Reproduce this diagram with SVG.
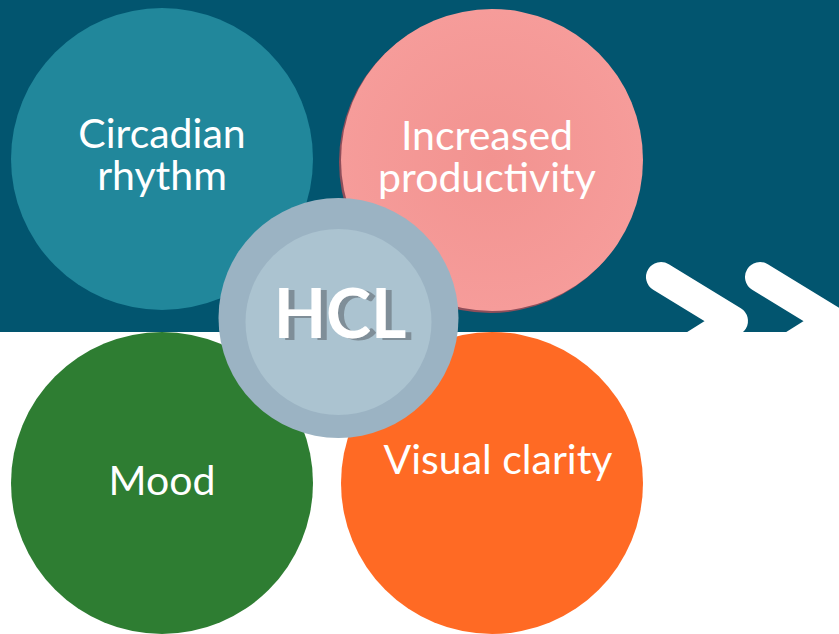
<svg xmlns="http://www.w3.org/2000/svg" width="839" height="634" viewBox="0 0 839 634">
<defs>
<style>
.lbl{font-family:Lato,"Open Sans","DejaVu Sans",sans-serif;font-size:41px;fill:#ffffff;text-anchor:middle}
.hcl{font-family:Lato,"Open Sans","DejaVu Sans",sans-serif;font-size:68px;font-weight:bold;text-anchor:middle;fill:#ffffff}
</style>
<radialGradient id="pinkg" cx="0.5" cy="0.5" r="0.5">
<stop offset="0" stop-color="#F29390"/>
<stop offset="1" stop-color="#F69C9A"/>
</radialGradient>
<filter id="hclshadow" x="-10%" y="-10%" width="130%" height="130%">
<feOffset in="SourceAlpha" dx="6" dy="2" result="off"/>
<feFlood flood-color="#7F8E98"/>
<feComposite in2="off" operator="in" result="sh"/>
<feMerge><feMergeNode in="sh"/><feMergeNode in="SourceGraphic"/></feMerge>
</filter>
</defs>
<rect x="0" y="0" width="839" height="634" fill="#ffffff"/>
<rect x="0" y="0" width="839" height="332" fill="#02556F"/>
<g id="chevrons" fill="none" stroke="#ffffff" stroke-width="30" stroke-linecap="round" stroke-linejoin="round">
<polyline points="661,277 733,321 690,348"/>
<polyline points="760,277 832,321 789,348"/>
</g>
<g id="connectors"></g>
<g id="node-circadian">
<circle cx="162" cy="159" r="151" fill="#21879B"/>
<text class="lbl" x="162" y="148">Circadian</text>
<text class="lbl" x="162" y="190">rhythm</text>
</g>
<g id="node-productivity">
<circle cx="490" cy="162" r="151" fill="#8E4E5A"/>
<circle cx="492" cy="160" r="151" fill="url(#pinkg)"/>
<text class="lbl" x="487" y="150">Increased</text>
<text class="lbl" x="487" y="192">productivity</text>
</g>
<g id="node-mood">
<circle cx="162" cy="483" r="151" fill="#2E7D32"/>
<text class="lbl" x="162" y="495">Mood</text>
</g>
<g id="node-visual">
<circle cx="492" cy="483" r="151" fill="#FF6A24"/>
<text class="lbl" x="498" y="474">Visual clarity</text>
</g>
<g id="node-hcl">
<circle cx="338.5" cy="318" r="120" fill="#9BB3C3"/>
<circle cx="338.5" cy="322" r="93" fill="#ABC3D0"/>
<text class="hcl" x="340" y="338" filter="url(#hclshadow)">HCL</text>
</g>
</svg>
